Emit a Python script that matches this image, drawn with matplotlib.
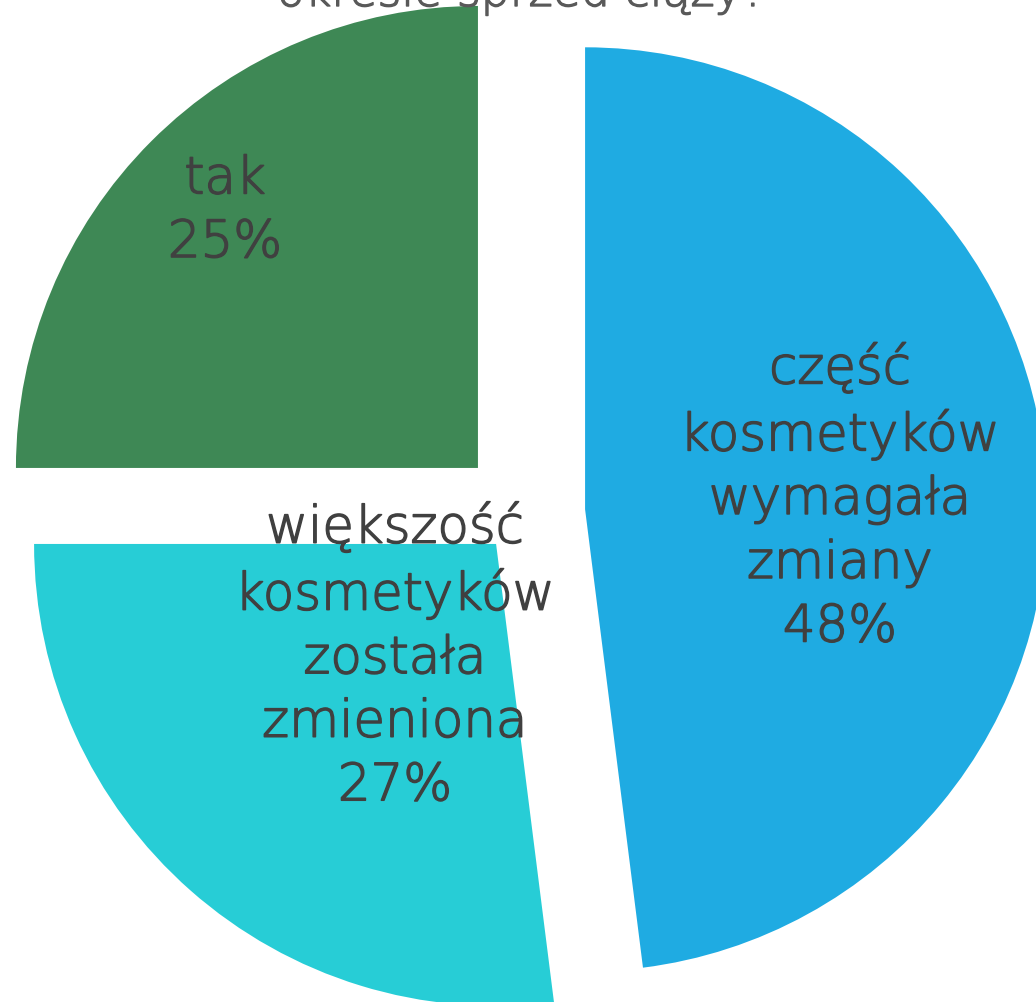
import matplotlib
matplotlib.use("Agg")
import matplotlib.pyplot as plt
import matplotlib.patheffects as pe
import numpy as np

labels = ["część\nkosmetyków\nwymagała\nzmiany", "większość\nkosmetyków\nzostała\nzmieniona", "tak"]
values = [48, 27, 25]
colors = ["#1FABE2", "#27CDD6", "#3E8855"]
explode = [62, 41, 64]
title = "Czy zmieniłaś kosmetyki w porównaniu z\nokresie sprzed ciąży?"

W, H = 1036, 1003
fig = plt.figure(figsize=(W / 100, H / 100), dpi=100)
ax = fig.add_axes([0, 0, 1, 1])
R = 462
C = (523.2, H - 514.2)
wedges, _ = ax.pie(values, colors=colors, explode=explode, startangle=90,
                   counterclock=False, radius=R, center=C,
                   wedgeprops=dict(linewidth=0))
ax.set_xlim(0, W)
ax.set_ylim(0, H)
ax.set_aspect("equal")
ax.axis("off")

txtcol = "#404040"
font = dict(family=["DejaVu Sans"], fontsize=37, color=txtcol,
            ha="center", va="center", linespacing=1.36, fontweight="light",
            path_effects=[pe.withStroke(linewidth=1.1, foreground=txtcol)])
label_pos = [(840, H - 498), (395, H - 657), (225, H - 212)]
for lab, v, (x, y) in zip(labels, values, label_pos):
    ax.text(x, y, f"{lab}\n{v}%", **font)

ax.text(522, H - 7, title, ha="center", va="baseline", fontsize=33,
        color="#595959", family=["DejaVu Sans"], linespacing=1.2,
        fontweight="light",
        path_effects=[pe.withStroke(linewidth=1.0, foreground="#595959")])

fig.savefig("out.png", dpi=100)
